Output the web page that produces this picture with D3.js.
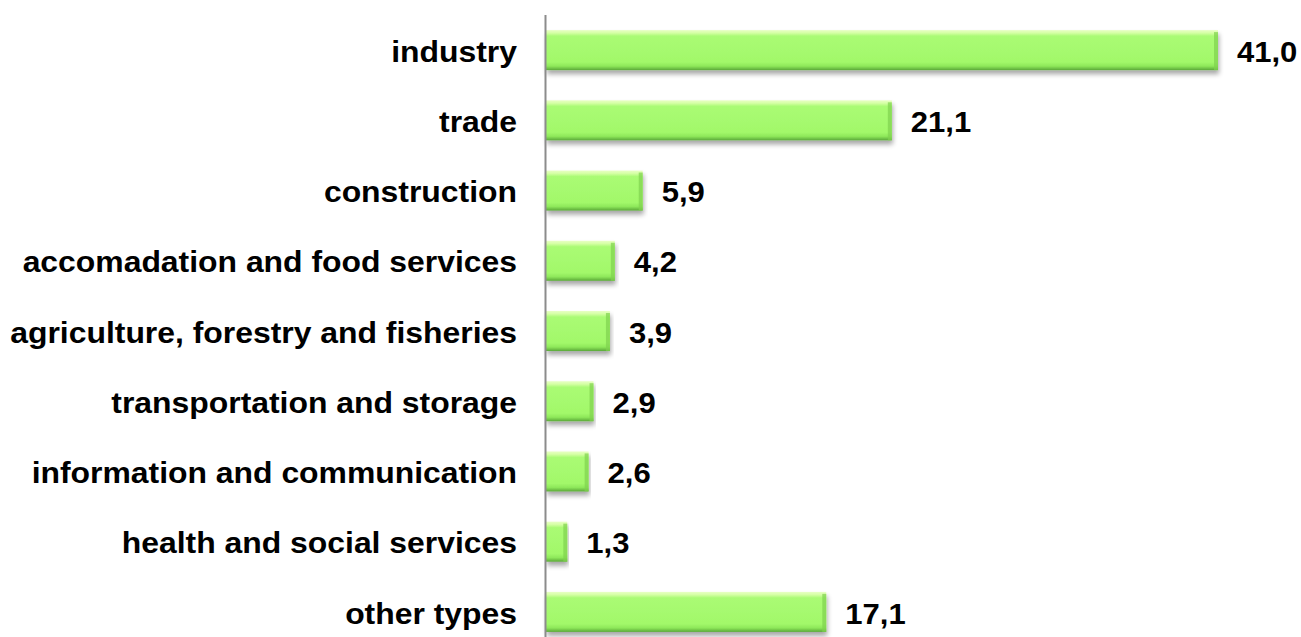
<!DOCTYPE html>
<html>
<head>
<meta charset="utf-8">
<script src="https://cdn.jsdelivr.net/npm/d3@7"></script>
<style>
  html, body { margin: 0; padding: 0; background: #fff; }
  text { font-family: "Liberation Sans", Arial, sans-serif; font-weight: bold; fill: #000; }
</style>
</head>
<body>
<svg id="chart" width="1301" height="637"></svg>
<script>
// data
const categories = [
  'industry',
  'trade',
  'construction',
  'accomadation and food services',
  'agriculture, forestry and fisheries',
  'transportation and storage',
  'information and communication',
  'health and social services',
  'other types'
];
const values = [41.0, 21.1, 5.9, 4.2, 3.9, 2.9, 2.6, 1.3, 17.1];
const valueLabels = ['41,0', '21,1', '5,9', '4,2', '3,9', '2,9', '2,6', '1,3', '17,1'];

const data = categories.map((c, i) => ({ name: c, value: values[i], label: valueLabels[i] }));

const svg = d3.select('#chart');
const x0 = 546;

const x = d3.scaleLinear().domain([0, 41]).range([x0, 1218]);
const y = d3.scaleBand().domain(categories).range([15, 647]).paddingInner(0.43).paddingOuter(0.215);

const defs = svg.append('defs');
const vg = defs.append('linearGradient').attr('id', 'vgrad').attr('x1', 0).attr('y1', 0).attr('x2', 0).attr('y2', 1);
[[0, '#e8ffc4'], [0.07, '#d6ffa6'], [0.15, '#aafb74'], [0.8, '#a2f86a'], [0.9, '#8ee85a'], [1, '#5aa838']]
  .forEach(([o, c]) => vg.append('stop').attr('offset', o).attr('stop-color', c));

const shadow = defs.append('filter').attr('id', 'shadow').attr('x', '-5%').attr('y', '-20%').attr('width', '110%').attr('height', '160%');
shadow.append('feGaussianBlur').attr('in', 'SourceAlpha').attr('stdDeviation', 2.5);
shadow.append('feOffset').attr('dx', 1).attr('dy', 4).attr('result', 'off');
shadow.append('feComponentTransfer').append('feFuncA').attr('type', 'linear').attr('slope', 0.35);
const merge = shadow.append('feMerge');
merge.append('feMergeNode');
merge.append('feMergeNode').attr('in', 'SourceGraphic');

const bars = svg.append('g').selectAll('g.bar')
  .data(data)
  .join('g')
  .attr('class', 'bar');

bars.append('rect')
  .attr('x', x0)
  .attr('y', d => y(d.name))
  .attr('width', d => x(d.value) - x0)
  .attr('height', y.bandwidth())
  .attr('fill', 'url(#vgrad)')
  .attr('filter', 'url(#shadow)');

// darker right bevel
bars.append('rect')
  .attr('x', d => x(d.value) - 4)
  .attr('y', d => y(d.name) + 2)
  .attr('width', 4)
  .attr('height', y.bandwidth() - 2)
  .attr('fill', '#7fd24e')
  .attr('opacity', 0.7);

// axis line
svg.append('line')
  .attr('x1', x0 - 0.5).attr('x2', x0 - 0.5)
  .attr('y1', 15).attr('y2', 637)
  .attr('stroke', '#8c8c8c').attr('stroke-width', 2);

// category labels (the original text is a little wider than plain Arial)
svg.append('g').selectAll('text')
  .data(data)
  .join('text')
  .attr('transform', d => `translate(517,${y(d.name) + y.bandwidth() / 2 + 4}) scale(1.1,1)`)
  .attr('text-anchor', 'end')
  .attr('dominant-baseline', 'middle')
  .style('font-size', '29px')
  .text(d => d.name);

// value labels
svg.append('g').selectAll('text')
  .data(data)
  .join('text')
  .attr('transform', d => `translate(${x(d.value) + 19},${y(d.name) + y.bandwidth() / 2 + 4}) scale(1.07,1)`)
  .attr('dominant-baseline', 'middle')
  .style('font-size', '29px')
  .text(d => d.label);
</script>
</body>
</html>
